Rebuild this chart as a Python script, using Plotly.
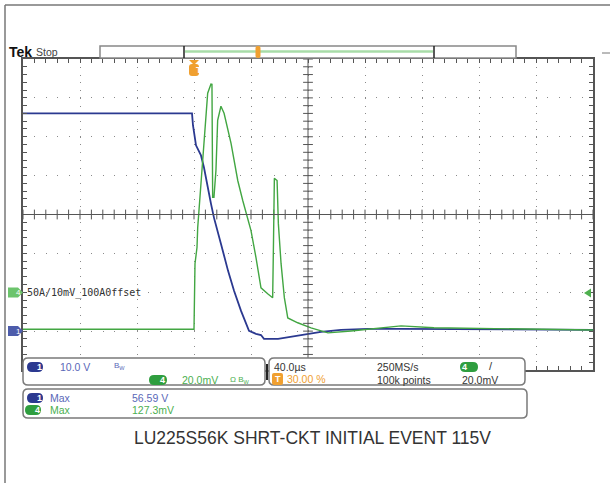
import plotly.graph_objects as go

W, H = 610, 483
L, R, T, B = 23, 593, 59, 370  # plot area in pixels

# channel 1 (volts) - 10 V/div
ch1_time_us = [-120, -1.4, -0.7, 1.4, 4.9, 7.0, 11.9, 14.0, 18.9, 23.9, 28.1, 33.0, 38.6,
               43.5, 47.0, 49.1, 59.0, 73.0, 82.1, 89.1, 103.2, 122.1, 145.3, 200.0, 280]
ch1_volts = [56.0, 56.0, 52.9, 47.8, 45.2, 42.1, 32.8, 29.2, 22.5, 15.5, 10.4, 5.2, 0.1,
             -0.7, -1.0, -2.0, -2.0, -1.2, -0.7, -0.2, 0.3, 0.6, 0.6, 0.5, 0.3]

# channel 4 (mV) - 20 mV/div
ch4_time_us = [-120, -0.4, 0.0, 0.7, 2.1, 2.6, 3.3, 4.2, 5.4, 6.1, 7.0, 8.4, 9.6, 11.9,
               12.6, 13.1, 14.0, 15.4, 16.6, 18.9, 21.1, 26.0, 30.7, 34.2, 40.0, 43.5,
               47.0, 51.7, 55.2, 55.8, 56.4, 58.3, 59.2, 61.1, 63.4, 65.8, 72.8, 82.1,
               89.1, 94.0, 110.2, 129.1, 145.3, 168.4, 215.4, 280]
ch4_mv = [-19, -19, -19, 14.7, 23.0, 33.3, 40.5, 50.8, 59.1, 66.3, 78.2, 93.6, 102.4, 107.1,
          107.0, 48.8, 48.8, 62.7, 88.5, 95.7, 92.1, 76.6, 57.5, 47.2, 31.7, 17.8,
          2.3, -0.8, -2.8, 26.6, 58.6, 57.5, 35.3, 14.7, -2.8, -13.2, -15.7, -18.3,
          -19.9, -20.9, -19.9, -18.3, -17.3, -18.3, -18.8, -19.4]

title_text = "LU225S56K SHRT-CKT INITIAL EVENT 115V"

BLUE = "#2b3990"
GREEN = "#42a642"
GRID = "#8a8a8a"
FRAME = "#555555"
ORANGE = "#f0a030"


# pixel -> paper (paper is the plot area in plotly)
def px(x):
    return (x - L) / (R - L)


def py(y):
    return (B - y) / (B - T)


def rrect(x0, y0, x1, y1, r=4):
    pts = [("M", x0 + r, y0), ("L", x1 - r, y0), ("Q", x1, y0, x1, y0 + r),
           ("L", x1, y1 - r), ("Q", x1, y1, x1 - r, y1), ("L", x0 + r, y1),
           ("Q", x0, y1, x0, y1 - r), ("L", x0, y0 + r), ("Q", x0, y0, x0 + r, y0)]
    s = ""
    for p in pts:
        s += p[0]
        coords = p[1:]
        s += " ".join(f"{px(coords[i]):.5f},{py(coords[i + 1]):.5f}" for i in range(0, len(coords), 2))
    return s + "Z"


fig = go.Figure()

# graticule centre lines ticks
fig.add_trace(go.Scatter(x=[-120 + 8 * k for k in range(51)], y=[30] * 51, mode="markers",
                         marker=dict(symbol="line-ns", size=7, line=dict(color=FRAME, width=1)),
                         hoverinfo="skip", showlegend=False))
fig.add_trace(go.Scatter(x=[80] * 41, y=[-10 + 2 * k for k in range(41)], mode="markers",
                         marker=dict(symbol="line-ew", size=7, line=dict(color=FRAME, width=1)),
                         hoverinfo="skip", showlegend=False))

fig.add_trace(go.Scatter(x=ch1_time_us, y=ch1_volts, mode="lines", line=dict(color=BLUE, width=1.8),
                         name="CH1", showlegend=False))
fig.add_trace(go.Scatter(x=ch4_time_us, y=ch4_mv, mode="lines", line=dict(color=GREEN, width=1.4),
                         name="CH4", yaxis="y2", showlegend=False))

shapes = []
# centre lines
shapes.append(dict(type="line", xref="x", yref="y", x0=-120, x1=280, y0=30, y1=30,
                   line=dict(color=FRAME, width=1)))
shapes.append(dict(type="line", xref="x", yref="y", x0=80, x1=80, y0=-10, y1=70,
                   line=dict(color=FRAME, width=1)))

# outer frame
shapes.append(dict(type="line", xref="paper", yref="paper", x0=px(5), x1=px(610), y0=py(5), y1=py(5),
                   line=dict(color="#777", width=1.5)))
shapes.append(dict(type="line", xref="paper", yref="paper", x0=px(5), x1=px(5), y0=py(5), y1=py(483),
                   line=dict(color="#777", width=1.5)))
shapes.append(dict(type="line", xref="paper", yref="paper", x0=px(602), x1=px(610), y0=py(53), y1=py(53),
                   line=dict(color="#777", width=1)))

# record view bar
shapes.append(dict(type="rect", xref="paper", yref="paper", x0=px(100), x1=px(516), y0=py(46), y1=py(58),
                   line=dict(color="#888", width=1.5), fillcolor="white"))
shapes.append(dict(type="line", xref="paper", yref="paper", x0=px(185), x1=px(433), y0=py(51.5), y1=py(51.5),
                   line=dict(color="#a8dca8", width=2.5)))
for xb in (184, 434):
    shapes.append(dict(type="line", xref="paper", yref="paper", x0=px(xb), x1=px(xb), y0=py(46), y1=py(58),
                       line=dict(color="#222", width=1.5)))
shapes.append(dict(type="path", xref="paper", yref="paper", path=rrect(255.5, 46, 260.5, 58, 2),
                   fillcolor=ORANGE, line=dict(width=0)))

# trigger position marker
shapes.append(dict(type="path", xref="paper", yref="paper", path=rrect(189, 64, 199, 76, 3),
                   fillcolor=ORANGE, line=dict(width=0), layer="above"))
shapes.append(dict(type="path", xref="paper", yref="paper",
                   path=f"M{px(189)},{py(60)} L{px(199)},{py(60)} L{px(194)},{py(65)} Z",
                   fillcolor=ORANGE, line=dict(width=0), layer="above"))

# channel ground markers on the left
for yc, col in ((331, "#4d5cab"), (292.5, "#6cc46c")):
    shapes.append(dict(type="path", xref="paper", yref="paper",
                       path=(f"M{px(8)},{py(yc - 5)} L{px(18)},{py(yc - 5)} L{px(23)},{py(yc)} "
                             f"L{px(18)},{py(yc + 5)} L{px(8)},{py(yc + 5)} Z"),
                       fillcolor=col, line=dict(width=0), layer="above"))

# trigger level marker on the right
shapes.append(dict(type="path", xref="paper", yref="paper",
                   path=f"M{px(584)},{py(293)} L{px(591)},{py(288.5)} L{px(591)},{py(297.5)} Z",
                   fillcolor="#4fb04f", line=dict(width=0), layer="above"))

# info boxes
for (x0, y0, x1, y1) in ((23, 358, 265, 385), (269, 358, 525, 385), (23, 389, 527, 418)):
    shapes.append(dict(type="path", xref="paper", yref="paper", path=rrect(x0, y0, x1, y1, 5),
                       fillcolor="white", line=dict(color="#7a7a7a", width=1.5), layer="above"))
shapes.append(dict(type="line", xref="paper", yref="paper", x0=px(267), x1=px(267), y0=py(364), y1=py(380),
                   line=dict(color="#222", width=2), layer="above"))

# pills
pills = [(35, 367, BLUE, "1", 16), (158, 380, "#2f9e3f", "4", 18), (469, 367, "#2f9e3f", "4", 18),
         (35, 398, BLUE, "1", 16), (33, 410, "#2f9e3f", "4", 16)]
ann = []
for (xc, yc, col, lab, wd) in pills:
    shapes.append(dict(type="path", xref="paper", yref="paper",
                       path=rrect(xc - wd / 2, yc - 5, xc + wd / 2, yc + 5, 5),
                       fillcolor=col, line=dict(width=0), layer="above"))
    ann.append(dict(x=px(xc), y=py(yc), text=f"<b>{lab}</b>", yanchor="middle",
                    font=dict(color="white", size=9, family="Liberation Sans")))

# orange T in box
shapes.append(dict(type="path", xref="paper", yref="paper", path=rrect(272, 373, 283, 385, 2),
                   fillcolor=ORANGE, line=dict(width=0), layer="above"))

FONT = "Liberation Sans Narrow, Liberation Sans, Arial"


def txt(x, y, s, col="#333", size=10.5, anchor="left", fam=FONT):
    ann.append(dict(x=px(x), y=py(y), text=s, xanchor=anchor, yanchor="middle",
                    font=dict(color=col, size=size, family=fam)))


txt(7, 52, "<b>Tek</b>", "#111", 14, fam="Liberation Sans Narrow, Liberation Sans")
txt(34, 52, "Stop", "#444", 10.5)
ann.append(dict(x=px(194), y=py(70), text="<b>T</b>", yanchor="middle",
                font=dict(color="white", size=9, family="Liberation Sans")))
ann.append(dict(x=px(277.5), y=py(379), text="<b>T</b>", yanchor="middle",
                font=dict(color="white", size=9, family="Liberation Sans")))
ann.append(dict(x=px(14), y=py(331), text="1", yanchor="middle",
                font=dict(color="white", size=8, family="Liberation Sans")))
ann.append(dict(x=px(14), y=py(292.5), text="4", yanchor="middle",
                font=dict(color="white", size=8, family="Liberation Sans")))

txt(25, 293, "50A/10mV_100A0ffset", "#333", 10, fam="DejaVu Sans Mono")

txt(58, 367, "10.0 V", "#5a68b8")
txt(112, 366, "B<sub>W</sub>", "#5a68b8", 8)
txt(180, 380, "20.0mV", "#4caf50")
txt(228, 380, "Ω B<sub>W</sub>", "#4caf50", 8)

txt(272, 367, "40.0µs", "#333")
txt(285, 379, "30.00 %", ORANGE)
txt(375, 367, "250MS/s", "#333")
txt(375, 380, "100k points", "#333")
txt(487, 366, "/", "#333", 11)
txt(460, 380, "20.0mV", "#333")

txt(48, 398, "Max", "#5a68b8")
txt(130, 398, "56.59 V", "#5a68b8")
txt(48, 410, "Max", "#4caf50")
txt(130, 410, "127.3mV", "#4caf50")

ann.append(dict(x=px(312), y=py(438), text=title_text, xanchor="center", yanchor="middle",
                font=dict(color="#333", size=17.5, family="Liberation Sans, Arial")))

for a in ann:
    a.setdefault("xref", "paper")
    a.setdefault("yref", "paper")
    a.setdefault("showarrow", False)

fig.update_layout(
    width=W, height=H,
    margin=dict(l=L, r=W - R, t=T, b=H - B),
    paper_bgcolor="white", plot_bgcolor="white",
    xaxis=dict(range=[-120, 280], tick0=-120, dtick=40, showgrid=True, gridcolor=GRID, gridwidth=1,
               griddash="1px,6.75px", zeroline=False, showticklabels=False,
               ticks="inside", ticklen=4, tickcolor=FRAME, mirror="allticks",
               showline=True, linecolor=FRAME, linewidth=1.5,
               minor=dict(dtick=8, tick0=-120, ticks="inside", ticklen=4, tickcolor=FRAME, showgrid=False)),
    yaxis=dict(range=[-10, 70], tick0=-10, dtick=10, showgrid=True, gridcolor=GRID, gridwidth=1,
               griddash="1px,10.4px", zeroline=False, showticklabels=False,
               ticks="inside", ticklen=4, tickcolor=FRAME, mirror="allticks",
               showline=True, linecolor=FRAME, linewidth=1.5,
               minor=dict(dtick=2, tick0=-10, ticks="inside", ticklen=4, tickcolor=FRAME, showgrid=False)),
    yaxis2=dict(range=[-40, 120], overlaying="y", visible=False, showgrid=False),
    shapes=shapes,
    annotations=ann,
)

# page margin off so the figure sits at the window's top-left corner
fig.write_html("out.html", config={"displayModeBar": False},
               post_script="document.body.style.margin='0';document.body.style.overflow='hidden';")
